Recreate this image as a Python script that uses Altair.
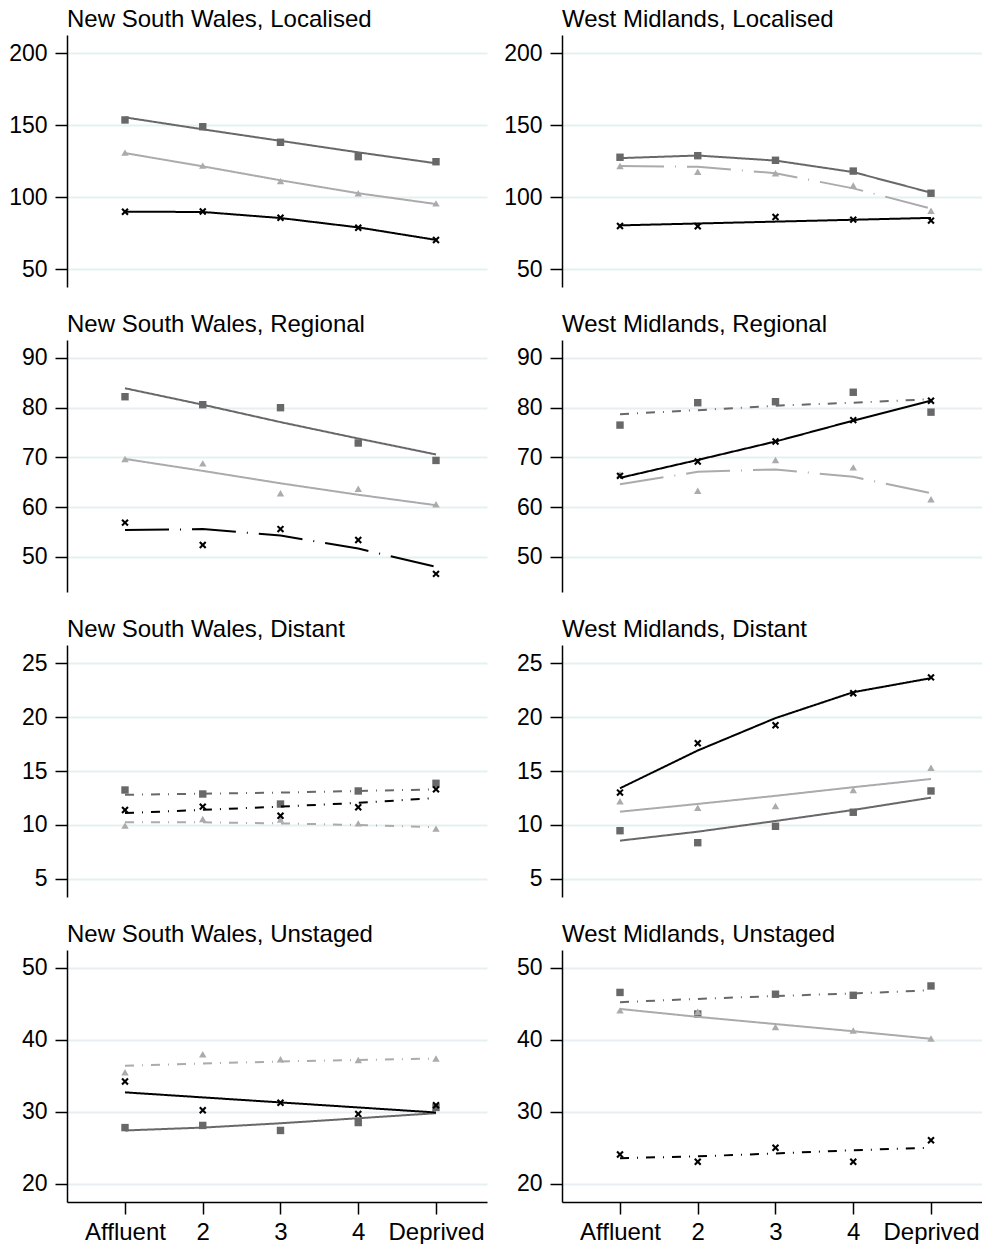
import altair as alt
import pandas as pd

# ---------------- data ----------------
X_LABELS = ["Affluent", "2", "3", "4", "Deprived"]
X_POS = [1, 2, 3, 4, 5]
SERIES = ["square", "triangle", "cross"]

# New South Wales, Localised
NSW_LOC_SQ = [153.5, 148.8, 138.0, 128.0, 124.5]
NSW_LOC_SQ_FIT = [155.3, 147.0, 139.0, 131.0, 123.4]
NSW_LOC_TRI = [130.8, 121.8, 111.0, 102.6, 95.6]
NSW_LOC_TRI_FIT = [130.5, 121.3, 111.6, 102.6, 95.1]
NSW_LOC_CR = [89.8, 89.9, 85.6, 78.7, 70.1]
NSW_LOC_CR_FIT = [89.8, 89.6, 85.4, 78.9, 70.2]

# West Midlands, Localised
WM_LOC_SQ = [127.6, 128.7, 125.5, 118.0, 102.6]
WM_LOC_SQ_FIT = [127.0, 128.8, 125.3, 117.3, 103.0]
WM_LOC_TRI = [121.5, 117.5, 116.5, 108.0, 90.5]
WM_LOC_TRI_FIT = [121.5, 121.0, 116.5, 106.0, 92.0]
WM_LOC_CR = [79.9, 79.7, 86.1, 84.3, 83.6]
WM_LOC_CR_FIT = [80.3, 81.6, 82.9, 84.2, 85.5]

# New South Wales, Regional
NSW_REG_SQ = [82.2, 80.6, 80.0, 72.9, 69.4]
NSW_REG_SQ_FIT = [83.9, 80.6, 77.1, 73.8, 70.6]
NSW_REG_TRI = [69.7, 68.8, 62.8, 63.7, 60.6]
NSW_REG_TRI_FIT = [69.7, 67.3, 64.8, 62.5, 60.4]
NSW_REG_CR = [56.9, 52.4, 55.6, 53.4, 46.6]
NSW_REG_CR_FIT = [55.4, 55.6, 54.3, 51.7, 48.0]

# West Midlands, Regional
WM_REG_SQ = [76.5, 81.0, 81.2, 83.1, 79.1]
WM_REG_SQ_FIT = [78.7, 79.5, 80.4, 81.0, 81.7]
WM_REG_TRI = [66.6, 63.3, 69.5, 68.0, 61.6]
WM_REG_TRI_FIT = [64.6, 67.1, 67.6, 66.1, 62.8]
WM_REG_CR = [66.3, 69.2, 73.2, 77.5, 81.4]
WM_REG_CR_FIT = [65.9, 69.5, 73.2, 77.4, 81.4]

# New South Wales, Distant
NSW_DIS_SQ = [13.24, 12.87, 11.94, 13.15, 13.86]
NSW_DIS_SQ_FIT = [12.8, 12.9, 13.0, 13.15, 13.3]
NSW_DIS_TRI = [9.94, 10.56, 10.5, 10.15, 9.66]
NSW_DIS_TRI_FIT = [10.25, 10.25, 10.15, 10.0, 9.8]
NSW_DIS_CR = [11.39, 11.7, 10.86, 11.64, 13.3]
NSW_DIS_CR_FIT = [11.1, 11.4, 11.7, 12.05, 12.5]

# West Midlands, Distant
WM_DIS_SQ = [9.47, 8.36, 9.88, 11.18, 13.15]
WM_DIS_SQ_FIT = [8.55, 9.38, 10.37, 11.39, 12.53]
WM_DIS_TRI = [12.2, 11.6, 11.76, 13.24, 15.3]
WM_DIS_TRI_FIT = [11.23, 11.95, 12.7, 13.5, 14.26]
WM_DIS_CR = [13.0, 17.57, 19.23, 22.2, 23.67]
WM_DIS_CR_FIT = [13.4, 16.9, 19.9, 22.3, 23.6]

# New South Wales, Unstaged
NSW_UNS_SQ = [27.8, 28.1, 27.4, 28.5, 30.6]
NSW_UNS_SQ_FIT = [27.4, 27.8, 28.4, 29.1, 29.8]
NSW_UNS_TRI = [35.5, 38.0, 37.3, 37.2, 37.4]
NSW_UNS_TRI_FIT = [36.4, 36.7, 37.0, 37.2, 37.4]
NSW_UNS_CR = [34.2, 30.2, 31.25, 29.7, 30.9]
NSW_UNS_CR_FIT = [32.7, 32.0, 31.3, 30.6, 29.9]

# West Midlands, Unstaged
WM_UNS_SQ = [46.6, 43.6, 46.35, 46.2, 47.5]
WM_UNS_SQ_FIT = [45.25, 45.7, 46.1, 46.45, 46.9]
WM_UNS_TRI = [44.1, 43.9, 41.8, 41.3, 40.2]
WM_UNS_TRI_FIT = [44.3, 43.2, 42.2, 41.2, 40.15]
WM_UNS_CR = [24.06, 23.05, 25.0, 23.05, 26.05]
WM_UNS_CR_FIT = [23.55, 23.8, 24.2, 24.65, 25.0]

# y-axis ticks and ranges per row
ROW_TICKS = [[50, 100, 150, 200], [50, 60, 70, 80, 90], [5, 10, 15, 20, 25], [20, 30, 40, 50]]
ROW_DOMAINS = [[37.5, 212.5], [42.96, 93.6], [3.33, 26.67], [17.45, 52.5]]

# ---------------- styling ----------------
FONT = "Liberation Sans"
SERIES_COLORS = ["#686868", "#ababab", "#000000"]
X_PATH = ("M-1,-0.6L-0.6,-1L0,-0.4L0.6,-1L1,-0.6L0.4,0L1,0.6"
          "L0.6,1L0,0.4L-0.6,1L-1,0.6L-0.4,0Z")
SHAPES = ["square", "triangle-up", X_PATH]
DASH_NAMES = ["solid", "longdash_dot", "dash_dot"]
DASH_ARRAYS = [[1, 0], [44, 11, 1, 11], [9, 8, 1, 8]]
GRID = "#e6eff1"
W, H = 420, 252
X_DOMAIN = [0.254, 5.656]

label_expr = "[" + ",".join("'%s'" % l for l in X_LABELS) + "][datum.value - 1]"


def panel(title, obs, fits, styles, row, bottom):
    rows = []
    for s, o, f, st in zip(SERIES, obs, fits, styles):
        for x, ov, fv in zip(X_POS, o, f):
            rows.append({"series": s, "x": x, "obs": ov, "fit": fv, "style": st})
    df = pd.DataFrame(rows)

    if bottom:
        xaxis = alt.Axis(values=X_POS, labelExpr=label_expr, grid=False, title=None,
                         tickSize=12, tickWidth=1.5, tickColor="black",
                         domainColor="black", domainWidth=1.5, labelPadding=6,
                         labelFont=FONT, labelFontSize=24, labelColor="black",
                         labelFlush=False)
    else:
        xaxis = None
    yaxis = alt.Axis(values=ROW_TICKS[row], grid=True, gridColor=GRID, gridWidth=2,
                     title=None, tickSize=12, tickWidth=1.5, tickColor="black",
                     domainColor="black", domainWidth=1.5, labelPadding=8,
                     labelFont=FONT, labelFontSize=23, labelColor="black",
                     minExtent=67, maxExtent=67, labelFlush=False)
    xenc = alt.X("x:Q", scale=alt.Scale(domain=X_DOMAIN, nice=False, zero=False), axis=xaxis)
    yscale = alt.Scale(domain=ROW_DOMAINS[row], nice=False, zero=False)
    color = alt.Color("series:N", scale=alt.Scale(domain=SERIES, range=SERIES_COLORS), legend=None)

    pts = alt.Chart(df).mark_point(filled=True, size=55, opacity=1).encode(
        x=xenc,
        y=alt.Y("obs:Q", scale=yscale, axis=yaxis),
        color=color,
        shape=alt.Shape("series:N", scale=alt.Scale(domain=SERIES, range=SHAPES), legend=None),
    )
    lines = alt.Chart(df).mark_line(strokeWidth=2).encode(
        x=alt.X("x:Q"),
        y=alt.Y("fit:Q"),
        color=color,
        strokeDash=alt.StrokeDash("style:N", scale=alt.Scale(domain=DASH_NAMES, range=DASH_ARRAYS), legend=None),
        detail="series:N",
    )
    return alt.layer(pts, lines).properties(
        width=W, height=H,
        title=alt.TitleParams(text=title, anchor="start", frame="group", font=FONT,
                              fontSize=24, fontWeight="normal", color="black",
                              offset=-16, baseline="alphabetic"),
    )


S, L, D = "solid", "longdash_dot", "dash_dot"
rows = [
    [panel("New South Wales, Localised", [NSW_LOC_SQ, NSW_LOC_TRI, NSW_LOC_CR],
           [NSW_LOC_SQ_FIT, NSW_LOC_TRI_FIT, NSW_LOC_CR_FIT], [S, S, S], 0, False),
     panel("West Midlands, Localised", [WM_LOC_SQ, WM_LOC_TRI, WM_LOC_CR],
           [WM_LOC_SQ_FIT, WM_LOC_TRI_FIT, WM_LOC_CR_FIT], [S, L, S], 0, False)],
    [panel("New South Wales, Regional", [NSW_REG_SQ, NSW_REG_TRI, NSW_REG_CR],
           [NSW_REG_SQ_FIT, NSW_REG_TRI_FIT, NSW_REG_CR_FIT], [S, S, L], 1, False),
     panel("West Midlands, Regional", [WM_REG_SQ, WM_REG_TRI, WM_REG_CR],
           [WM_REG_SQ_FIT, WM_REG_TRI_FIT, WM_REG_CR_FIT], [D, L, S], 1, False)],
    [panel("New South Wales, Distant", [NSW_DIS_SQ, NSW_DIS_TRI, NSW_DIS_CR],
           [NSW_DIS_SQ_FIT, NSW_DIS_TRI_FIT, NSW_DIS_CR_FIT], [D, D, D], 2, False),
     panel("West Midlands, Distant", [WM_DIS_SQ, WM_DIS_TRI, WM_DIS_CR],
           [WM_DIS_SQ_FIT, WM_DIS_TRI_FIT, WM_DIS_CR_FIT], [S, S, S], 2, False)],
    [panel("New South Wales, Unstaged", [NSW_UNS_SQ, NSW_UNS_TRI, NSW_UNS_CR],
           [NSW_UNS_SQ_FIT, NSW_UNS_TRI_FIT, NSW_UNS_CR_FIT], [S, D, S], 3, True),
     panel("West Midlands, Unstaged", [WM_UNS_SQ, WM_UNS_TRI, WM_UNS_CR],
           [WM_UNS_SQ_FIT, WM_UNS_TRI_FIT, WM_UNS_CR_FIT], [D, S, D], 3, True)],
]

chart = alt.vconcat(
    *[alt.hconcat(*r, spacing=8) for r in rows], spacing=26
).properties(
    padding={"top": 8, "left": 0, "right": 0, "bottom": 0}, background="white"
).configure_view(stroke=None)

chart.save("out.html", embed_options={"renderer": "svg", "actions": False})
